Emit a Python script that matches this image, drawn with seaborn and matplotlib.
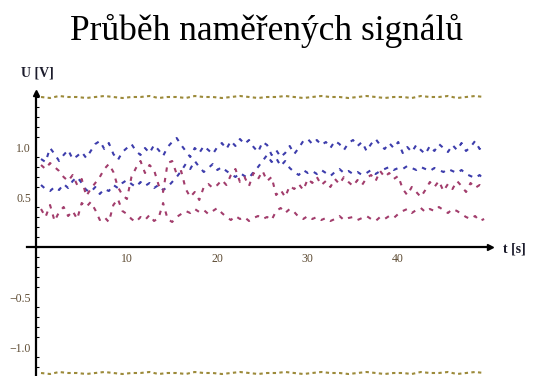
import numpy as np
import pandas as pd
import matplotlib
matplotlib.use("Agg")
import matplotlib.pyplot as plt
import seaborn as sns

# Sample times [s]
t = np.arange(0.5, 50.0, 0.5)
t_ref = np.arange(0.5, 50.0, 1.0)

# Measured signals [V]
blue_upper = [
    0.88, 0.85, 0.99, 0.93, 0.86, 0.92, 0.97, 0.88, 0.91, 0.95,
    0.89, 0.96, 1.03, 1.06, 0.98, 1.04, 0.93, 0.87, 0.95, 0.99,
    1.03, 0.96, 0.92, 0.99, 0.94, 1.02, 0.97, 0.91, 1.00, 1.05,
    1.09, 1.02, 0.96, 0.90, 0.99, 0.94, 1.01, 0.97, 0.93, 1.00,
    1.04, 0.98, 1.06, 1.01, 1.08, 1.03, 1.07, 1.00, 0.95, 1.05,
    1.02, 0.92, 0.97, 0.90, 0.94, 1.01, 0.93, 0.99, 1.06, 1.08,
    1.03, 1.07, 1.02, 1.05, 0.99, 1.06, 1.03, 0.97, 1.04, 1.07,
    1.01, 1.05, 0.96, 1.03, 1.08, 1.02, 0.98, 1.04, 0.99, 1.05,
    0.94, 1.00, 0.95, 1.02, 0.97, 0.93, 1.01, 0.96, 1.03, 0.99,
    0.95, 1.02, 0.97, 1.04, 0.96, 1.00, 1.06, 0.98, 1.03,
]
blue_lower = [
    0.62, 0.58, 0.56, 0.60, 0.57, 0.63, 0.59, 0.66, 0.70, 0.64,
    0.57, 0.55, 0.60, 0.53, 0.58, 0.56, 0.62, 0.59, 0.64, 0.67,
    0.63, 0.60, 0.65, 0.61, 0.64, 0.59, 0.62, 0.57, 0.60, 0.65,
    0.70, 0.76, 0.83, 0.78, 0.86, 0.80, 0.75, 0.79, 0.83, 0.77,
    0.80, 0.76, 0.73, 0.70, 0.74, 0.71, 0.69, 0.75, 0.80, 0.86,
    0.92, 0.85, 0.89, 0.81, 0.86, 0.79, 0.75, 0.72, 0.77, 0.74,
    0.76, 0.73, 0.77, 0.74, 0.71, 0.75, 0.78, 0.74, 0.76, 0.73,
    0.75, 0.72, 0.74, 0.77, 0.73, 0.76, 0.78, 0.80, 0.77, 0.79,
    0.78, 0.81, 0.79, 0.77, 0.80, 0.78, 0.76, 0.79, 0.77, 0.75,
    0.78, 0.76, 0.74, 0.77, 0.73, 0.71, 0.69, 0.72, 0.67,
]
purple_upper = [
    0.82, 0.78, 0.84, 0.80, 0.76, 0.70, 0.66, 0.72, 0.62, 0.68,
    0.51, 0.58, 0.64, 0.70, 0.78, 0.83, 0.75, 0.60, 0.52, 0.48,
    0.70, 0.79, 0.86, 0.74, 0.82, 0.77, 0.62, 0.55, 0.84, 0.86,
    0.73, 0.76, 0.58, 0.50, 0.55, 0.47, 0.60, 0.63, 0.59, 0.62,
    0.67, 0.62, 0.72, 0.78, 0.65, 0.70, 0.61, 0.74, 0.68, 0.76,
    0.66, 0.70, 0.52, 0.57, 0.50, 0.61, 0.58, 0.63, 0.57, 0.68,
    0.64, 0.70, 0.62, 0.66, 0.60, 0.68, 0.63, 0.70, 0.65, 0.61,
    0.67, 0.62, 0.69, 0.72, 0.66, 0.76, 0.70, 0.74, 0.68, 0.71,
    0.58, 0.52, 0.60, 0.55, 0.50, 0.57, 0.65, 0.60, 0.66, 0.56,
    0.63, 0.58, 0.66, 0.61, 0.55, 0.64, 0.59, 0.62, 0.57,
]
purple_lower = [
    0.38, 0.30, 0.42, 0.26, 0.35, 0.40, 0.31, 0.36, 0.28, 0.44,
    0.40, 0.45, 0.37, 0.27, 0.30, 0.25, 0.42, 0.48, 0.36, 0.33,
    0.28, 0.25, 0.30, 0.27, 0.32, 0.26, 0.29, 0.44, 0.28, 0.25,
    0.30, 0.33, 0.36, 0.34, 0.38, 0.35, 0.37, 0.33, 0.36, 0.39,
    0.34, 0.30, 0.27, 0.31, 0.28, 0.30, 0.26, 0.29, 0.31, 0.28,
    0.30, 0.27, 0.36, 0.39, 0.34, 0.38, 0.35, 0.30, 0.28, 0.31,
    0.28, 0.30, 0.27, 0.29, 0.26, 0.28, 0.31, 0.27, 0.29, 0.30,
    0.27, 0.29, 0.31, 0.28, 0.26, 0.30, 0.28, 0.31, 0.29, 0.33,
    0.36, 0.38, 0.34, 0.37, 0.39, 0.35, 0.38, 0.36, 0.40, 0.37,
    0.34, 0.38, 0.36, 0.33, 0.30, 0.28, 0.31, 0.26, 0.28,
]
ref_high = [
    1.50, 1.49, 1.51, 1.50, 1.50, 1.49, 1.50, 1.51, 1.50, 1.49,
    1.50, 1.50, 1.51, 1.49, 1.50, 1.50, 1.49, 1.51, 1.50, 1.50,
    1.49, 1.50, 1.51, 1.50, 1.49, 1.50, 1.50, 1.51, 1.50, 1.49,
    1.50, 1.51, 1.50, 1.50, 1.49, 1.50, 1.51, 1.50, 1.49, 1.50,
    1.50, 1.49, 1.51, 1.50, 1.50, 1.51, 1.49, 1.50, 1.51, 1.50,
]
ref_low = [
    -1.26, -1.27, -1.25, -1.26, -1.26, -1.27, -1.26, -1.25, -1.26, -1.27,
    -1.26, -1.26, -1.25, -1.27, -1.26, -1.26, -1.27, -1.25, -1.26, -1.26,
    -1.27, -1.26, -1.25, -1.26, -1.27, -1.26, -1.26, -1.25, -1.26, -1.27,
    -1.26, -1.25, -1.26, -1.26, -1.27, -1.26, -1.25, -1.26, -1.27, -1.26,
    -1.26, -1.27, -1.25, -1.26, -1.26, -1.25, -1.27, -1.26, -1.25, -1.26,
]

x_major = [10, 20, 30, 40]
y_major = [-1.0, -0.5, 0.5, 1.0]
y_tick_labels = ["\u22121.0", "\u22120.5", "0.5", "1.0"]

title = "Průběh naměřených signálů"
y_label = "U [V]"
x_label = "t [s]"

BLUE = "#3d3dac"
PURPLE = "#a23d6c"
OLIVE = "#9c8a3a"

sns.set_style("white")
plt.rcParams["font.family"] = ["Liberation Serif", "DejaVu Serif"]

fig = plt.figure(figsize=(5.37, 3.76), dpi=100)
ax = fig.add_axes([27 / 537, 0.0, 463 / 537, 283 / 376])

signal_dash = (0, (2.1, 3.0))
ref_dash = (0, (1.6, 1.6))
series = [
    (t, blue_upper, BLUE, signal_dash),
    (t, blue_lower, BLUE, signal_dash),
    (t, purple_upper, PURPLE, signal_dash),
    (t, purple_lower, PURPLE, signal_dash),
    (t_ref, ref_high, OLIVE, ref_dash),
    (t_ref, ref_low, OLIVE, ref_dash),
]
for xs, ys, col, dash in series:
    df = pd.DataFrame({"t": xs, "u": ys})
    sns.lineplot(data=df, x="t", y="u", ax=ax, color=col, lw=1.5,
                 linestyle=dash, dash_capstyle="butt", errorbar=None,
                 clip_on=False)

ax.set_xlim(-1.05, 50.15)
ax.set_ylim(-1.29, 1.54)

# Axes through the origin
for side in ("top", "right"):
    ax.spines[side].set_visible(False)
ax.spines["left"].set_position(("data", 0))
ax.spines["bottom"].set_position(("data", 0))
for side in ("left", "bottom"):
    ax.spines[side].set_linewidth(1.6)
    ax.spines[side].set_color("black")
    ax.spines[side].set_zorder(1)

ax.plot([50.15], [0], marker=">", color="black", ms=5, clip_on=False)
ax.plot([0], [1.54], marker="^", color="black", ms=5, clip_on=False)

ax.set_xticks(x_major)
ax.set_xticklabels([str(v) for v in x_major])
ax.set_yticks(y_major)
ax.set_yticklabels(y_tick_labels)
ax.set_yticks(np.round(np.arange(-1.2, 1.55, 0.1), 2), minor=True)
ax.tick_params(axis="both", which="major", direction="in", length=4,
               width=1.0, colors="black", labelsize=8.5,
               labelcolor="#5e4c34")
ax.tick_params(axis="y", which="minor", direction="in", length=2.5,
               width=0.8, color="black", left=True)
ax.tick_params(axis="x", which="major", pad=4)
ax.tick_params(axis="y", which="major", pad=4)
ax.set_xlabel("")
ax.set_ylabel("")

fig.text(37 / 537, 1 - 73 / 376, y_label, ha="center", va="center",
         fontsize=10, fontweight="bold", color="#1c1c2c")
fig.text(503 / 537, 1 - 249 / 376, x_label, ha="left", va="center",
         fontsize=10, fontweight="bold", color="#1c1c2c")
fig.text(266 / 537, 1 - 31 / 376, title, ha="center", va="center",
         fontsize=25.5, color="black")

fig.savefig("out.png", dpi=100)
